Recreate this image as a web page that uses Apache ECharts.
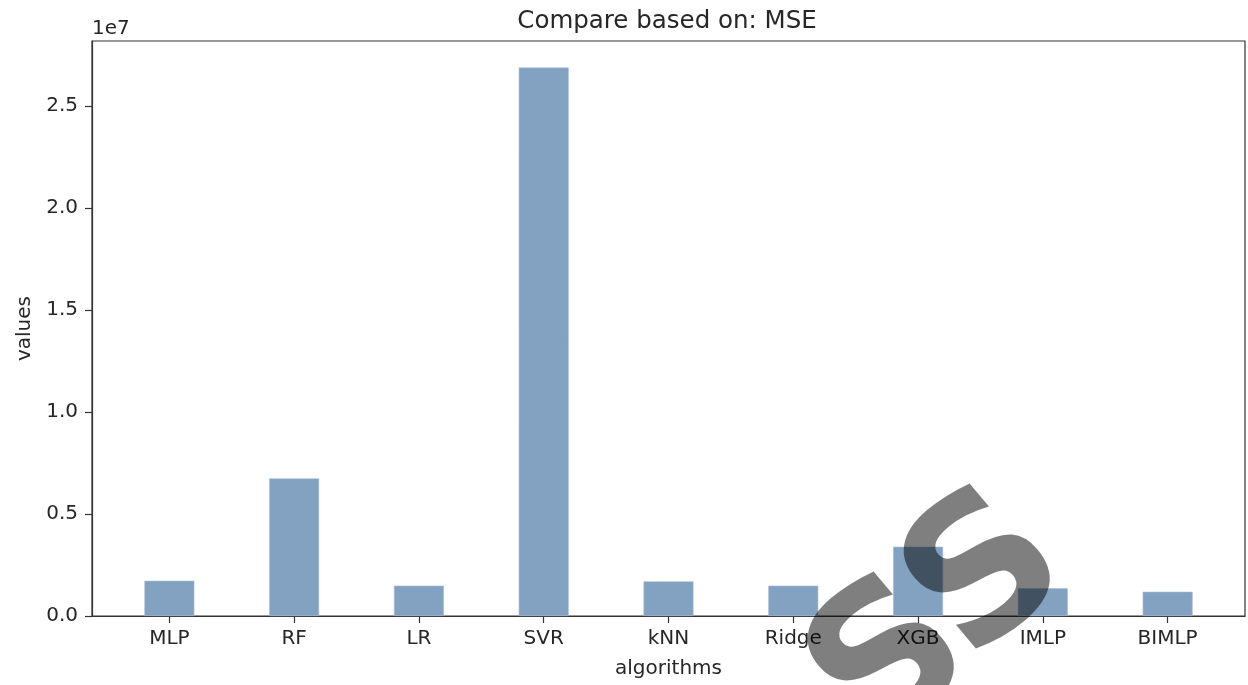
<!DOCTYPE html>
<html>
<head>
<meta charset="utf-8">
<script src="https://cdn.jsdelivr.net/npm/echarts@6/dist/echarts.min.js"></script>
<style>
html,body{margin:0;padding:0;background:#fff;}
#chart{width:1248px;height:685px;}
</style>
</head>
<body>
<div id="chart"></div>
<script>
const categories = ['MLP', 'RF', 'LR', 'SVR', 'kNN', 'Ridge', 'XGB', 'IMLP', 'BIMLP'];
const mseValues = [1730000, 6750000, 1490000, 26900000, 1700000, 1490000, 3400000, 1360000, 1190000];
const yTickValues = [0, 5000000, 10000000, 15000000, 20000000, 25000000];
const xTickValues = categories.map((c, i) => i);

const FONT = 'DejaVu Sans';
const TXT = '#262626';

const chart = echarts.init(document.getElementById('chart'), null, {renderer: 'canvas'});
chart.setOption({
  animation: false,
  backgroundColor: '#ffffff',
  title: {
    text: 'Compare based on: MSE',
    left: 662, top: 4, textAlign: 'center',
    textStyle: {fontFamily: FONT, fontSize: 24.5, fontWeight: 'normal', color: TXT}
  },
  grid: {
    left: 92, right: 3, top: 41, bottom: 69,
    show: true, borderColor: '#333', borderWidth: 1.2, backgroundColor: 'transparent'
  },
  xAxis: {
    type: 'value', min: -0.62, max: 8.62,
    name: 'algorithms', nameLocation: 'middle', nameGap: 43,
    nameTextStyle: {fontFamily: FONT, fontSize: 20, color: TXT},
    axisLine: {show: true, onZero: false, lineStyle: {color: '#333', width: 1.2}},
    axisTick: {show: true, length: 7, customValues: xTickValues, lineStyle: {color: '#333', width: 1.2}},
    axisLabel: {
      customValues: xTickValues, margin: 13,
      fontFamily: FONT, fontSize: 20, color: TXT,
      formatter: v => categories[Math.round(v)]
    },
    splitLine: {show: false}
  },
  yAxis: {
    type: 'value', min: 0, max: 28200000,
    name: 'values', nameLocation: 'middle', nameGap: 56,
    nameTextStyle: {fontFamily: FONT, fontSize: 20, color: TXT},
    axisLine: {show: true, onZero: false, lineStyle: {color: '#333', width: 1.2}},
    axisTick: {show: true, length: 7, customValues: yTickValues, lineStyle: {color: '#333', width: 1.2}},
    axisLabel: {
      customValues: yTickValues, margin: 14,
      fontFamily: FONT, fontSize: 20, color: TXT,
      formatter: v => (v / 1e7).toFixed(1)
    },
    splitLine: {show: false}
  },
  graphic: [
    {
      type: 'text', left: 92, top: 19, z: 50,
      style: {text: '1e7', fontFamily: FONT, fontSize: 20, fill: TXT}
    },
    {
      type: 'text', x: 990, y: 580, rotation: 0.7, z: 100,
      style: {text: 'S', font: 'bold 195px "DejaVu Sans"', fill: 'rgba(0,0,0,0.5)', align: 'center', verticalAlign: 'middle'}
    },
    {
      type: 'text', x: 894, y: 668, rotation: 0.7, z: 100,
      style: {text: 'S', font: 'bold 195px "DejaVu Sans"', fill: 'rgba(0,0,0,0.5)', align: 'center', verticalAlign: 'middle'}
    }
  ],
  series: [{
    type: 'bar',
    barWidth: 50,
    data: mseValues.map((v, i) => [i, v]),
    itemStyle: {color: '#83a2c1', borderColor: '#a9c0d6', borderWidth: 0.6}
  }]
});
</script>
</body>
</html>
